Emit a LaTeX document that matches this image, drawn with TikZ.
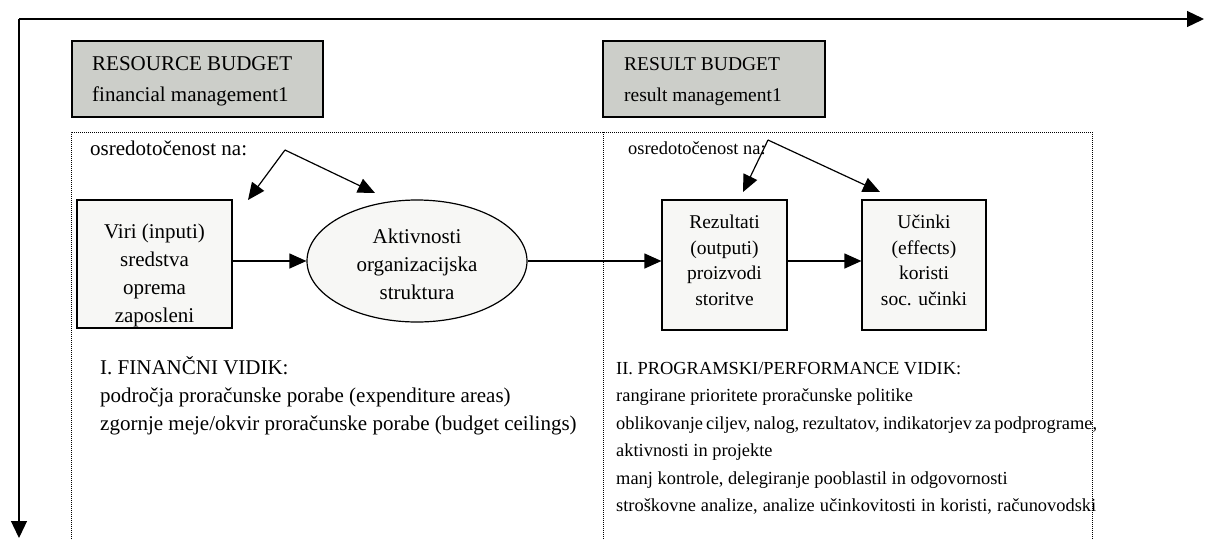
\documentclass[tikz,border=0pt]{standalone}
\usepackage{fontspec}
\setmainfont{Liberation Serif}
\usetikzlibrary{arrows.meta,shapes.geometric}
\definecolor{budgetgray}{RGB}{204,206,201}
\definecolor{boxfill}{RGB}{247,247,245}
\tikzset{
  x=1pt, y=-1pt,
  big/.style={font=\fontsize{21}{28}\selectfont, inner sep=0pt},
  mid/.style={font=\fontsize{19.5}{25.5}\selectfont, inner sep=0pt},
  small/.style={font=\fontsize{18.4}{27.5}\selectfont, inner sep=0pt},
  budget/.style={draw, line width=1.3pt, fill=budgetgray},
  itembox/.style={draw, line width=1.2pt, fill=boxfill},
  conn/.style={line width=1.2pt, -{Triangle[length=17pt,width=15pt]}},
  axis/.style={line width=1.3pt, -{Triangle[length=17pt,width=16pt]}},
  dots/.style={line width=1pt, densely dotted},
}
\begin{document}
\begin{tikzpicture}
\useasboundingbox (0,0) rectangle (1218,539);
% axes
\coordinate (origin) at (19,19);
\coordinate (xend) at (1204,19);
\coordinate (yend) at (19,538);
\draw[axis] (origin) -- (xend);
\draw[axis] (origin) -- (yend);
% budget boxes
\draw[budget] (72,41) rectangle (323,117);
\node[big, anchor=base west] (rb1) at (92,70) {RESOURCE BUDGET};
\node[big, anchor=base west] (rb2) at (92,101) {financial management1};
\draw[budget] (603,41) rectangle (825,117);
\node[mid, anchor=base west] (sb1) at (624,70) {RESULT BUDGET};
\node[mid, anchor=base west] (sb2) at (624,101) {result management1};
% dotted frame
\draw[dots] (71,545) -- (71,132) -- (1092,132) -- (1092,545);
\draw[dots] (603,132) -- (603,545);
% focus labels
\node[big, anchor=base west] (f1) at (90,155) {osredotočenost na:};
\node[small, anchor=base west] (f2) at (628,154) {osredotočenost na:};
% items
\node[itembox, minimum width=155pt, minimum height=128pt, inner sep=0pt] (viri) at (154.5,264) {};
\node[itembox, ellipse, minimum width=220pt, minimum height=122pt, inner sep=0pt] (akt) at (417,261) {};
\node[itembox, minimum width=125pt, minimum height=130pt, inner sep=0pt] (rez) at (724.5,265) {};
\node[itembox, minimum width=124pt, minimum height=130pt, inner sep=0pt] (uci) at (924,265) {};
\begin{scope}
\clip (77,200) rectangle (232,328);
\node[big, align=center, anchor=base] (virit) at (154.5,322.5) {Viri (inputi)\\sredstva\\oprema\\zaposleni};
\end{scope}
\node[big, align=center, anchor=base] (aktt) at (417,299) {Aktivnosti\\organizacijska\\struktura};
\node[mid, align=center, anchor=base] (rezt) at (724.5,305) {Rezultati\\(outputi)\\proizvodi\\storitve};
\node[mid, align=center, anchor=base] (ucit) at (924,305) {Učinki\\(effects)\\koristi\\soc. učinki};
% connectors
\draw[conn] (viri.east |- 0,261) -- (akt.west);
\draw[conn] (akt.east) -- (rez.west |- 0,261);
\draw[conn] (rez.east |- 0,261) -- (uci.west |- 0,261);
\coordinate (apL) at (285,150);
\coordinate (tL1) at (248,200);
\coordinate (tL2) at (375,193);
\draw[conn] (apL) -- (tL1);
\draw[conn] (apL) -- (tL2);
\coordinate (apR) at (768,140);
\coordinate (tR1) at (743,192);
\coordinate (tR2) at (880,192);
\draw[conn] (apR) -- (tR1);
\draw[conn] (apR) -- (tR2);
% bottom texts
\node[big, align=left, anchor=base west] (fin) at (100,430) {I. FINANČNI VIDIK:\\področja proračunske porabe (expenditure areas)\\zgornje meje/okvir proračunske porabe (budget ceilings)};
\node[small, align=left, anchor=base west] (prog) at (616,511.5) {II. PROGRAMSKI/PERFORMANCE VIDIK:\\rangirane prioritete proračunske politike\\\makebox[480pt][s]{oblikovanje ciljev, nalog, rezultatov, indikatorjev za podprograme,}\\aktivnosti in projekte\\manj kontrole, delegiranje pooblastil in odgovornosti\\\makebox[480pt][s]{stroškovne analize, analize učinkovitosti in koristi, računovodski}};
\end{tikzpicture}
\end{document}
